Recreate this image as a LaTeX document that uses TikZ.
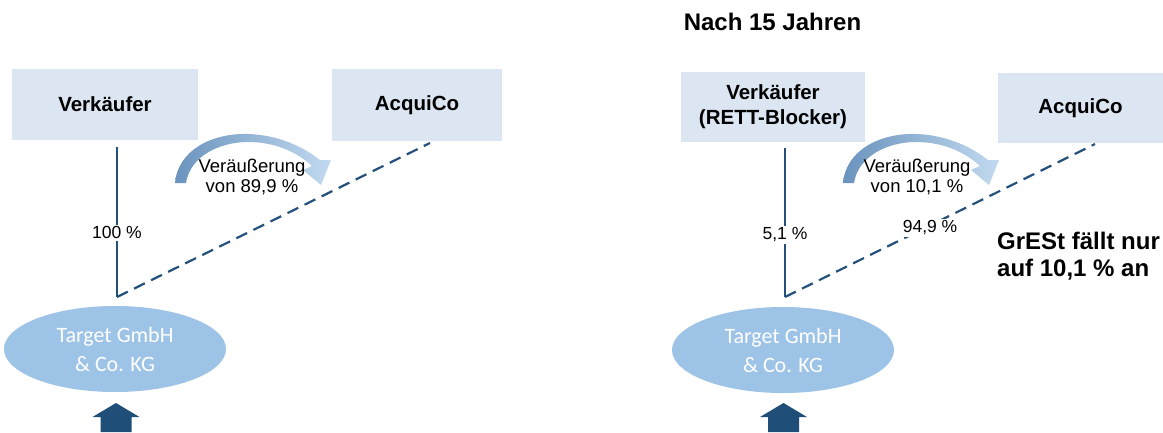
\documentclass[tikz,border=0pt]{standalone}
\usepackage{fontspec}
\setmainfont{Liberation Sans}
\newfontfamily\calib{Carlito}
\usetikzlibrary{shapes.geometric}
\definecolor{boxfill}{HTML}{DCE6F2}
\definecolor{ellfill}{HTML}{9DC3E6}
\definecolor{darkline}{HTML}{24507C}
\definecolor{arrdark}{HTML}{1F4E79}
\definecolor{curveL}{HTML}{6A93BD}
\definecolor{curveR}{HTML}{C2DAF0}
\tikzset{
  boxnode/.style={fill=boxfill, draw=none, inner sep=0pt, align=center,
    font=\fontsize{20.5}{25}\selectfont\bfseries},
  ellnode/.style={ellipse, fill=ellfill, draw=none, inner sep=0pt,
    minimum width=222pt, minimum height=86pt, align=center, text=white,
    font=\calib\fontsize{22}{29}\selectfont},
  ownline/.style={draw=darkline, line width=2.2pt},
  dashline/.style={draw=darkline, line width=2.2pt, dash pattern=on 12pt off 7pt},
  pct/.style={fill=white, inner sep=2pt, font=\fontsize{17.5}{20}\selectfont},
  saletext/.style={align=center, inner sep=0pt, font=\fontsize{18.5}{20}\selectfont},
  bigtext/.style={inner sep=0pt, font=\fontsize{24}{27}\selectfont\bfseries},
  botarrow/.style={fill=arrdark, draw=none},
  curvearrow/.style={left color=curveL, right color=curveR, draw=none}
}
\begin{document}
\begin{tikzpicture}[x=1pt,y=-1pt]
\useasboundingbox[fill=white] (0,0) rectangle (1163,432);

% ---------------- left part ----------------
\node[boxnode, minimum width=186pt, minimum height=71pt] (v1) at (105,104.5) {Verkäufer};
\node[boxnode, minimum width=170pt, minimum height=72pt] (a1) at (417,105) {AcquiCo};
\node[ellnode] (e1) at (115,349) {Target GmbH\\\& Co. KG};

\coordinate (top1) at (117,147);
\coordinate (j1) at (117,297);
\coordinate (ac1) at (430,143);
\draw[ownline] (top1) -- node[pct, pos=0.573] (p1) {100 \%} (j1);
\draw[dashline] (j1) -- (ac1);

\shade[curvearrow] (175,183) .. controls (178,150) and (212,133) .. (248,134)
  .. controls (280,135) and (305,148) .. (320,160) -- (331,160) -- (321,185)
  -- (303,170) -- (312,166) .. controls (297,152) and (275,142) .. (248,142)
  .. controls (220,142) and (190,156) .. (186,183) -- cycle;
\node[saletext] (s1) at (252,177) {Veräußerung\\von 89,9 \%};

\coordinate (b1) at (116,403);
\fill[botarrow] (b1) -- ++(23.5,14) -- ++(-8,0) -- ++(0,15) -- ++(-31,0)
  -- ++(0,-15) -- ++(-8,0) -- cycle;

% ---------------- right part ----------------
\node[bigtext] (title) at (772.5,22) {Nach 15 Jahren};
\node[boxnode, minimum width=184pt, minimum height=70pt] (v2) at (773,107) {Verkäufer\\(RETT-Blocker)};
\node[boxnode, minimum width=165pt, minimum height=70pt] (a2) at (1080.5,108) {AcquiCo};
\node[ellnode] (e2) at (783,350) {Target GmbH\\\& Co. KG};

\coordinate (top2) at (785,148);
\coordinate (j2) at (785,297);
\coordinate (ac2) at (1095,144);
\draw[ownline] (top2) -- node[pct, pos=0.584] (p2) {5,1 \%} (j2);
\draw[dashline] (j2) -- node[pct, pos=0.468, yshift=-2.5pt] (p3) {94,9 \%} (ac2);

\begin{scope}[shift={(668,0)}]
\shade[curvearrow] (175,183) .. controls (178,150) and (212,133) .. (248,134)
  .. controls (280,135) and (305,148) .. (320,160) -- (331,160) -- (321,185)
  -- (303,170) -- (312,166) .. controls (297,152) and (275,142) .. (248,142)
  .. controls (220,142) and (190,156) .. (186,183) -- cycle;
\end{scope}
\node[saletext] (s2) at (917,177) {Veräußerung\\von 10,1 \%};

\node[bigtext, anchor=west, align=left] (g) at (997,256.5) {GrESt fällt nur\\auf 10,1 \% an};

\coordinate (b2) at (783.5,403);
\fill[botarrow] (b2) -- ++(23.5,14) -- ++(-8,0) -- ++(0,15) -- ++(-31,0)
  -- ++(0,-15) -- ++(-8,0) -- cycle;
\end{tikzpicture}
\end{document}
